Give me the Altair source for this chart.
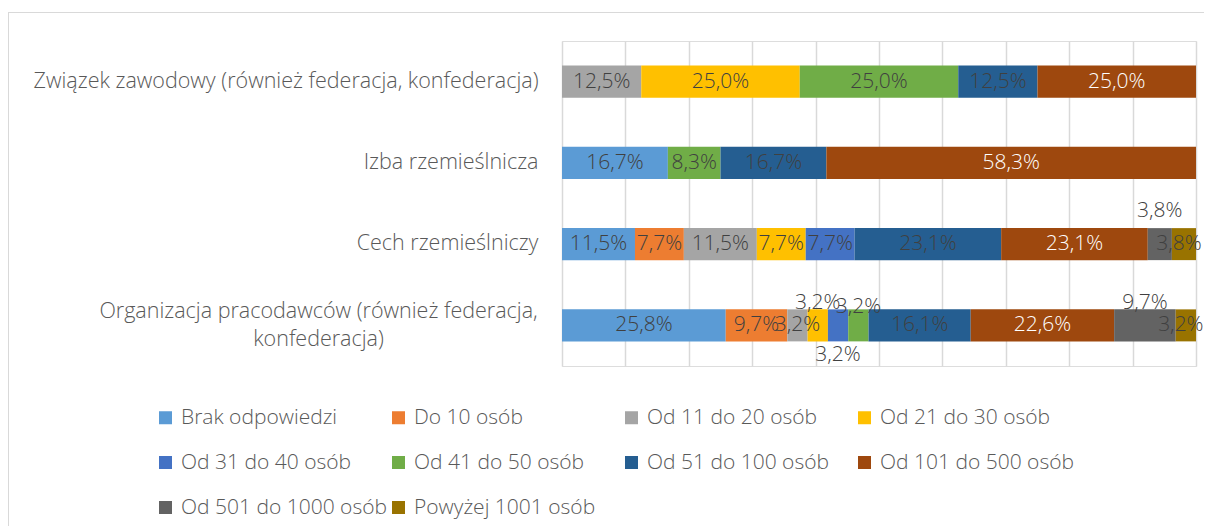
import altair as alt
import pandas as pd

categories = [
    "Związek zawodowy (również federacja, konfederacja)",
    "Izba rzemieślnicza",
    "Cech rzemieślniczy",
    "Organizacja pracodawców (również federacja, konfederacja)",
]
series = [
    "Brak odpowiedzi", "Do 10 osób", "Od 11 do 20 osób", "Od 21 do 30 osób",
    "Od 31 do 40 osób", "Od 41 do 50 osób", "Od 51 do 100 osób",
    "Od 101 do 500 osób", "Od 501 do 1000 osób", "Powyżej 1001 osób",
]
colors = ["#5B9BD5", "#ED7D31", "#A5A5A5", "#FFC000", "#4472C4",
          "#70AD47", "#255E91", "#9E480E", "#636363", "#997300"]

# values per series, in the order of categories (0 = no segment)
brak = [0, 16.7, 11.5, 25.8]
do10 = [0, 0, 7.7, 9.7]
od11 = [12.5, 0, 11.5, 3.2]
od21 = [25.0, 0, 7.7, 3.2]
od31 = [0, 0, 7.7, 3.2]
od41 = [25.0, 8.3, 0, 3.2]
od51 = [12.5, 16.7, 23.1, 16.1]
od101 = [25.0, 58.3, 23.1, 22.6]
od501 = [0, 0, 3.8, 9.7]
pow1001 = [0, 0, 3.8, 3.2]

all_vals = [brak, do10, od11, od21, od31, od41, od51, od101, od501, pow1001]
rows = []
for si, (s, vals) in enumerate(zip(series, all_vals)):
    for c, v in zip(categories, vals):
        if v > 0:
            rows.append({"category": c, "series": s, "idx": si, "value": v,
                         "label": f"{v:.1f}".replace(".", ",") + "%"})
df = pd.DataFrame(rows)

FONT = "Open Sans"
FW = 300
FS = 21
AXFS = 21.5
TXT = "#404040"
ORG = categories[3]
CECH = categories[2]

# labels moved off their segment (category, series, dx, dy)
moved = [
    (CECH, "Od 501 do 1000 osób", 0, -33),
    (CECH, "Powyżej 1001 osób", -5, 0),
    (ORG, "Od 21 do 30 osób", 0, -22),
    (ORG, "Od 41 do 50 osób", 0, -18),
    (ORG, "Od 31 do 40 osób", 0, 30),
    (ORG, "Od 501 do 1000 osób", 0, -22),
    (ORG, "Powyżej 1001 osób", -5, 0),
]

def key_test(c, s):
    return f"datum.category == '{c}' && datum.series == '{s}'"

base = alt.Chart(df).transform_stack(
    stack="value", groupby=["category"], as_=["v0", "v1"],
    offset="normalize", sort=[alt.SortField("idx")]
).transform_calculate(mid="(datum.v0 + datum.v1) / 2")

ysc = alt.Scale(domain=categories, paddingInner=0.606, paddingOuter=0.303)
org_test = "datum.value == '" + ORG + "'"
y_enc = alt.Y(
    "category:N", sort=categories, scale=ysc, title=None,
    axis=alt.Axis(
        ticks=False, domain=False, labelFont=FONT, labelFontWeight=FW, labelFontSize=AXFS,
        labelColor="#595959", labelLimit=0, labelLineHeight=28,
        labelExpr=(org_test + " ? "
                   "['Organizacja pracodawców (również federacja,', 'konfederacja)'] : datum.label"),
        labelAlign={"condition": {"test": org_test, "value": "center"}, "value": "right"},
        labelPadding={"condition": {"test": org_test, "value": 244}, "value": 24},
        labelOffset={"condition": {"test": org_test, "value": -13}, "value": 0},
    ),
)

bars = base.mark_bar().encode(
    x=alt.X("v0:Q", scale=alt.Scale(domain=[0, 1], nice=False), title=None,
            axis=alt.Axis(values=[i / 10 for i in range(11)], labels=False, ticks=False,
                          domain=False, grid=True, gridColor="#D9D9D9", gridWidth=1.5)),
    x2="v1:Q",
    y=y_enc,
    color=alt.Color("series:N", sort=series,
                    scale=alt.Scale(domain=series, range=colors),
                    legend=alt.Legend(
                        title=None, orient="none", legendX=-407, legendY=366,
                        direction="horizontal", columns=4, gridAlign="all",
                        symbolType="square", symbolSize=169,
                        symbolStrokeWidth=0, labelFont=FONT, labelFontWeight=FW,
                        labelFontSize=FS, labelColor="#595959", labelOffset=5,
                        rowPadding=23, columnPadding=0, labelLimit=0)),
    order=alt.Order("idx:Q"),
)

not_moved = " && ".join(f"!({key_test(c, s)})" for c, s, _, _ in moved)
labels = base.transform_filter(not_moved).mark_text(
    font=FONT, fontWeight=FW, fontSize=FS, baseline="middle", align="center"
).encode(
    x="mid:Q", y=alt.Y("category:N", sort=categories, scale=ysc),
    text="label:N",
    color=alt.condition("datum.series == 'Od 101 do 500 osób'", alt.value("white"), alt.value(TXT)),
)

moved_layers = []
for c, s, dx, dy in moved:
    moved_layers.append(
        base.transform_filter(key_test(c, s)).mark_text(
            font=FONT, fontWeight=FW, fontSize=FS, baseline="middle", align="center",
            dx=dx, dy=dy, color=TXT
        ).encode(x="mid:Q", y=alt.Y("category:N", sort=categories, scale=ysc), text="label:N")
    )

frame = pd.DataFrame({"a": [0]})
top_line = alt.Chart(frame).mark_rule(color="#D9D9D9", strokeWidth=1).encode(
    x=alt.value(-554), x2=alt.value(660), y=alt.value(-28.5))
left_line = alt.Chart(frame).mark_rule(color="#D9D9D9", strokeWidth=1).encode(
    x=alt.value(-553.5), y=alt.value(-29), y2=alt.value(490))

chart = alt.layer(bars, labels, *moved_layers, top_line, left_line).properties(
    width=634, height=325,
    autosize=alt.AutoSizeParams(type="none"),
    padding={"left": 554, "top": 33, "right": 8, "bottom": 160},
).configure_view(stroke=None).configure(background="white")

chart.save("out.html", embed_options={"renderer": "svg", "actions": False})
